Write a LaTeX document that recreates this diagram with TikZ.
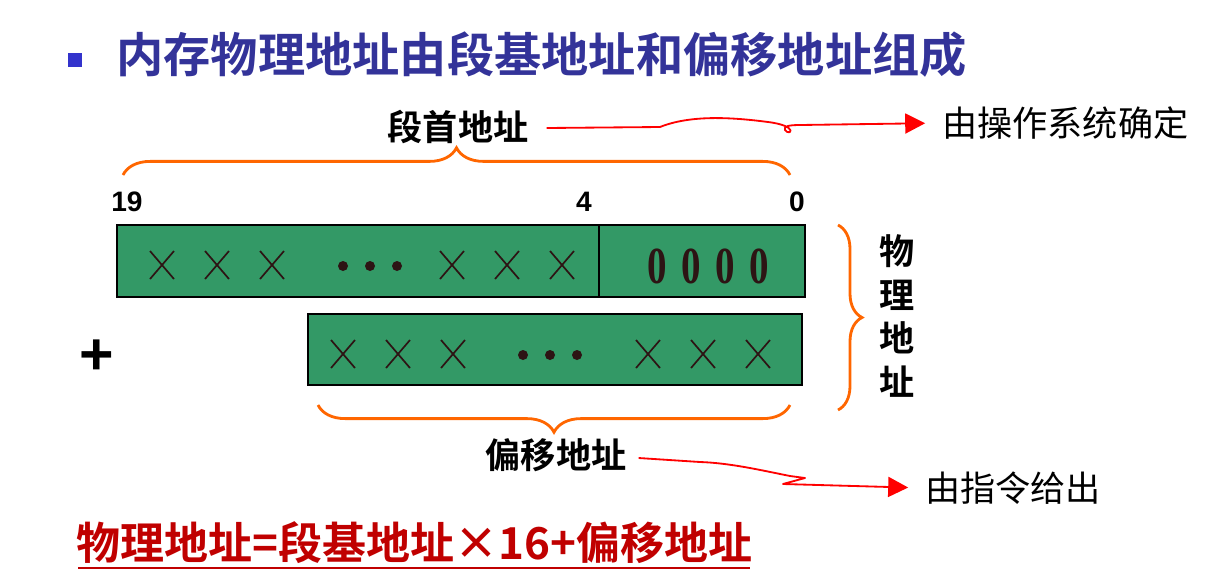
\documentclass[tikz,border=0pt]{standalone}
\usepackage{fontspec}
\setmainfont{Liberation Serif}
\setsansfont{Liberation Sans}
\newfontfamily\cjk{Noto Sans CJK SC}[BoldFont={Noto Sans CJK SC Bold}]
\usetikzlibrary{arrows.meta,decorations.pathreplacing}
\definecolor{titleblue}{RGB}{51,51,153}
\definecolor{bulletblue}{RGB}{51,51,204}
\definecolor{boxgreen}{RGB}{51,153,102}
\definecolor{markdark}{RGB}{45,20,20}
\definecolor{braceorange}{RGB}{255,102,0}
\definecolor{formulared}{RGB}{192,0,0}
\tikzset{
  cjklabel/.style={font=\cjk\bfseries\fontsize{25}{31}\selectfont, inner sep=0pt},
  bitlabel/.style={font=\sffamily\bfseries\fontsize{20}{20}\selectfont, inner sep=0pt},
  regbox/.style={draw=black, fill=boxgreen, line width=1.5pt},
  cross/.style={draw=markdark, line width=1.2pt},
  orangebrace/.style={draw=braceorange, line width=2pt, decorate,
    decoration={brace, amplitude=0.68cm}},
  redarrow/.style={draw=red, line width=1.3pt, shorten >=0.42cm,
    -{Triangle[length=0.5cm, width=0.5cm]}}
}
\begin{document}
\begin{tikzpicture}[x=0.025cm, y=-0.025cm]
    \useasboundingbox (0,0) rectangle (1217,574);

    \fill[bulletblue] (68,53) rectangle (82,67);
    \node[anchor=west, inner sep=0pt, text=titleblue, font=\cjk\bfseries\fontsize{33.6}{36}\selectfont] (title) at (116,55) {内存物理地址由段基地址和偏移地址组成};

    \node[cjklabel] (seghead) at (458,127) {段首地址};
    \node[cjklabel, anchor=west, font=\cjk\fontsize{25}{31}\selectfont] (os) at (942,123) {由操作系统确定};
    \draw[redarrow, line join=round] (seghead.east) ++(18,1) -- (660,127) .. controls (690,115) and (730,117) .. (768,122)
        .. controls (800,126) and (790,137) .. (785,130) .. controls (783,126) and (790,125) .. (800,125) -- (os.west);

    \draw[orangebrace] (123,175) -- (790,175);
    \node[bitlabel] (b19) at (127,202) {19};
    \node[bitlabel] (b4) at (584,202) {4};
    \node[bitlabel] (b0) at (797,202) {0};

    \filldraw[regbox] (117,225) rectangle (805,297);
    \draw[line width=1.2pt] (599,225) -- (599,297);
    \foreach \x in {162,217,272,452,507,562}
        \draw[cross] (\x-12,251) -- (\x+12,279) (\x-12,279) -- (\x+12,251);
    \foreach \x in {343,370,397}
        \fill[markdark] (\x,266) circle (5);
    \foreach \x [count=\i] in {657,691,725,759}
        \node[text=markdark, inner sep=0pt, xscale=0.75, font=\rmfamily\bfseries\fontsize{37}{37}\selectfont] (zero\i) at (\x,266) {0};

    \node[font=\sffamily\bfseries\fontsize{42}{42}\selectfont, inner sep=0pt] (plus) at (97,357) {+};

    \filldraw[regbox] (308,314) rectangle (802,385);
    \foreach \x in {343,398,453,648,703,758}
        \draw[cross] (\x-12,340) -- (\x+12,368) (\x-12,368) -- (\x+12,340);
    \foreach \x in {523,550,577}
        \fill[markdark] (\x,355) circle (5);

    \draw[orangebrace] (790,405) -- (318,405);
    \node[cjklabel] (offset) at (556,455) {偏移地址};
    \node[cjklabel, anchor=west, font=\cjk\fontsize{25}{31}\selectfont] (instr) at (925,488) {由指令给出};
    \draw[redarrow, line join=round] (offset.east) ++(12,3) -- (700,462) .. controls (730,463) and (760,470) .. (790,476)
        -- (805,478) -- (783,484) -- (instr.west);

    \draw[orangebrace, decoration={brace, amplitude=0.6cm}] (838,225) -- (838,410);
    \node[cjklabel, align=center] (phys) at (897,316) {物\\理\\地\\址};

    \node[anchor=west, inner sep=0pt, text=formulared, font=\cjk\bfseries\fontsize{31.3}{34}\selectfont] (formula) at (76,543) {物理地址=段基地址×16+偏移地址};
    \draw[formulared, line width=1.5pt] (78,568) -- (750,568);
\end{tikzpicture}
\end{document}
